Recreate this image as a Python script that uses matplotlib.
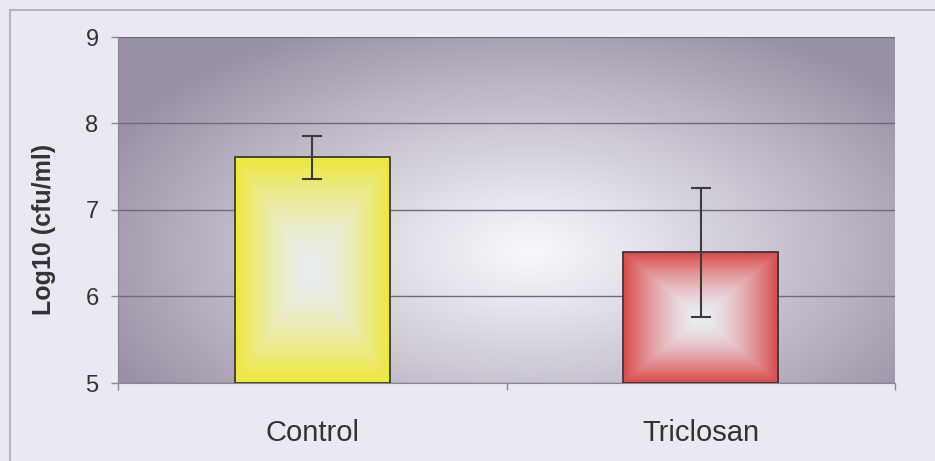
import matplotlib
matplotlib.use('Agg')
import matplotlib.pyplot as plt
import numpy as np
from matplotlib.patches import Rectangle

# data
groups = ['Control', 'Triclosan']
means = [7.61, 6.51]
errs = [0.25, 0.75]
edge_cols = [(0.93, 0.91, 0.22), (0.85, 0.28, 0.28)]

plt.rcParams['font.family'] = ['Liberation Sans', 'DejaVu Sans']
txt_col = '#333333'
page_col = (0.918, 0.914, 0.945)

fig = plt.figure(figsize=(9.35, 4.61), dpi=100)
fig.patch.set_facecolor(page_col)
ax = fig.add_axes([118/935, 1 - 383/461, 777/935, 346/461])

# outer chart frame (right/bottom run off the page)
fig.add_artist(Rectangle((10/935, -0.1), 1.2, 1.1 - 10/461, transform=fig.transFigure,
                         fill=False, edgecolor='#a9a8b4', lw=1.2))

x = np.arange(len(groups))
ax.set_xlim(-0.5, 1.5)
ax.set_ylim(5, 9)

# plot-area background: purple-grey fading to white near the middle
gx, gy = np.meshgrid(np.linspace(0, 1, 400), np.linspace(0, 1, 200))
r = np.sqrt(((gx - 0.53) / 0.60) ** 2 + ((gy - 0.38) / 0.72) ** 2)
t = np.clip(r, 0, 1) ** 1.1
outer = np.array([0.61, 0.57, 0.65])
inner = np.array([0.97, 0.97, 0.99])
bg = inner * (1 - t[..., None]) + outer * t[..., None]
ax.imshow(bg, extent=[-0.5, 1.5, 5, 9], origin='lower', aspect='auto', zorder=0)

ax.yaxis.grid(True, color='#6f6a78', lw=1.0, zorder=1)
ax.set_axisbelow(True)

bars = ax.bar(x, np.array(means) - 5, bottom=5, width=0.40, facecolor='none',
              edgecolor='#3a3a3a', lw=1.3, zorder=3)

# "from centre" gradient fill inside each bar
u, v = np.meshgrid(np.linspace(-1, 1, 200), np.linspace(-1, 1, 200))
cheb = np.maximum(np.abs(u), np.abs(v))
for b, col in zip(bars, edge_cols):
    w = np.clip(cheb, 0, 1) ** 1.6
    img = np.array([0.92, 0.93, 0.95]) * (1 - w[..., None]) + np.array(col) * w[..., None]
    x0, y0 = b.get_x(), b.get_y()
    im = ax.imshow(img, extent=[x0, x0 + b.get_width(), y0, y0 + b.get_height()],
                   aspect='auto', zorder=2)
    im.set_clip_path(b)

ax.errorbar(x, means, yerr=errs, fmt='none', ecolor='#3c3c3c', elinewidth=1.5,
            capsize=7, capthick=1.5, zorder=4)

for s in ['top', 'right']:
    ax.spines[s].set_visible(False)
ax.spines['left'].set_color('#8a8794')
ax.spines['bottom'].set_color('#8a8794')

ax.set_yticks([5, 6, 7, 8, 9])
ax.tick_params(axis='y', length=5, width=1, color='#8a8794', pad=9,
               labelsize=17, labelcolor=txt_col)
ax.set_xticks([-0.5, 0.5, 1.5])
ax.set_xticklabels([])
ax.tick_params(axis='x', length=5, width=1, color='#8a8794')
ax.set_xticks(x, minor=True)
ax.set_xticklabels(groups, minor=True)
ax.tick_params(axis='x', which='minor', length=0, pad=26, labelsize=21, labelcolor=txt_col)

ax.set_ylabel('Log10 (cfu/ml)', fontsize=18, fontweight='bold', color=txt_col)
ax.yaxis.set_label_coords(-0.080, 0.445)

fig.savefig('out.png', dpi=100, facecolor=fig.get_facecolor())
